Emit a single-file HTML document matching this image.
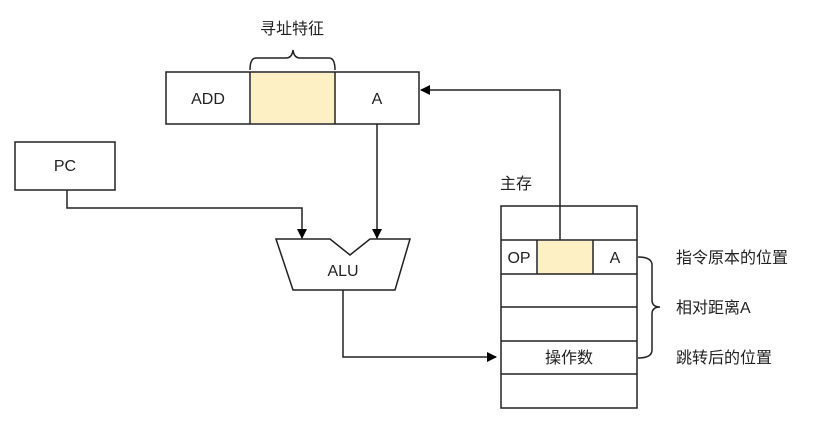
<!DOCTYPE html>
<html><head><meta charset="utf-8"><style>
body{margin:0;background:#fff;}
svg text{font-family:"Liberation Sans","Noto Sans CJK SC",sans-serif;fill:#222;}
</style></head><body>
<svg width="819" height="437" viewBox="0 0 819 437" xmlns="http://www.w3.org/2000/svg">
<defs><marker id="ar" markerWidth="10" markerHeight="10" refX="9" refY="5" orient="auto" markerUnits="userSpaceOnUse"><path d="M0,0 L10,5 L0,10 z" fill="#000"/></marker></defs>
<g stroke="#222" stroke-width="1.5" fill="none">
<rect x="166" y="72" width="253" height="52" fill="#fff"/>
<rect x="251" y="73" width="84" height="50" fill="#fdf0c4" stroke="none"/>
<line x1="250" y1="72" x2="250" y2="124"/><line x1="335" y1="72" x2="335" y2="124"/>
<path d="M250,70 Q250,58 256,58 L286,58 Q292,58 293,50 Q294,58 300,58 L329,58 Q335,58 335,70"/>
<rect x="15" y="142" width="100" height="48" fill="#fff"/>
<path d="M276,239 L330,239 L350,255 L370,239 L410,239 L395,290 L293,290 Z" fill="#fff"/>
<path d="M67,190 L67,208 L302,208 L302,238" marker-end="url(#ar)"/>
<path d="M377,124 L377,238" marker-end="url(#ar)"/>
<path d="M343,290 L343,357 L496,357" marker-end="url(#ar)"/>
<rect x="501" y="206" width="136" height="202" fill="#fff"/>
<rect x="538" y="241" width="55" height="33" fill="#fdf0c4" stroke="none"/>
<line x1="501" y1="240" x2="637" y2="240"/><line x1="501" y1="274" x2="637" y2="274"/>
<line x1="501" y1="307" x2="637" y2="307"/><line x1="501" y1="341" x2="637" y2="341"/>
<line x1="501" y1="374" x2="637" y2="374"/>
<line x1="537" y1="240" x2="537" y2="274"/><line x1="593" y1="240" x2="593" y2="274"/>
<path d="M560,240 L560,90 L421,90" marker-end="url(#ar)"/>
<path d="M638,257 Q652,257 652,265 L652,300 Q652,307 660,307 Q652,307 652,314 L652,350 Q652,358 638,358"/>
</g>
<g font-size="16">
<text x="292" y="34" text-anchor="middle">寻址特征</text>
<text x="208" y="104" text-anchor="middle">ADD</text>
<text x="377" y="104" text-anchor="middle">A</text>
<text x="65" y="171" text-anchor="middle">PC</text>
<text x="343" y="276" text-anchor="middle">ALU</text>
<text x="500" y="189">主存</text>
<text x="519" y="263" text-anchor="middle">OP</text>
<text x="615" y="263" text-anchor="middle">A</text>
<text x="569" y="363" text-anchor="middle">操作数</text>
<text x="676" y="263">指令原本的位置</text>
<text x="676" y="313">相对距离A</text>
<text x="676" y="363">跳转后的位置</text>
</g>
</svg>
</body></html>
